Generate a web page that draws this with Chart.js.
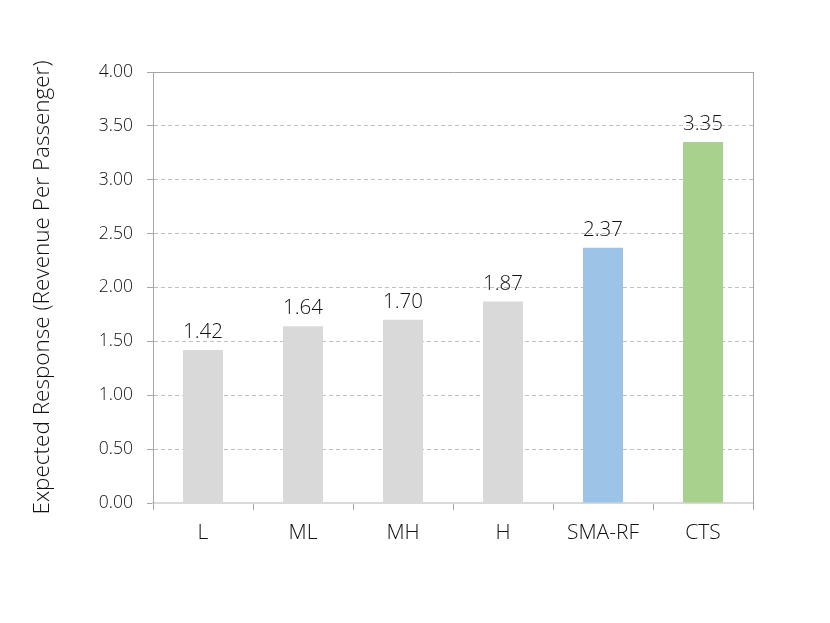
<!DOCTYPE html>
<html>
<head>
<meta charset="utf-8">
<script src="https://cdn.jsdelivr.net/npm/chart.js@4/dist/chart.umd.min.js"></script>
<style>
  html, body { margin: 0; padding: 0; background: #fff; }
  #wrap { width: 830px; height: 623px; }
</style>
</head>
<body>
<div id="wrap"><canvas id="grafica" width="830" height="623"></canvas></div>
<script>
const categorias = ['L', 'ML', 'MH', 'H', 'SMA-RF', 'CTS'];
const valores = [1.42, 1.64, 1.70, 1.87, 2.37, 3.35];
const colores = ['#D9D9D9', '#D9D9D9', '#D9D9D9', '#D9D9D9', '#9DC3E6', '#A9D18E'];
const tituloY = 'Expected Response (Revenue Per Passenger)';

const fuente = '"Open Sans", "DejaVu Sans", sans-serif';
const colorTexto = '#111111';

// etiquetas encima de cada barra
const etiquetasBarras = {
  id: 'etiquetasBarras',
  afterDatasetsDraw(chart) {
    const ctx = chart.ctx;
    const meta = chart.getDatasetMeta(0);
    ctx.save();
    ctx.font = '300 20.5px ' + fuente;
    ctx.fillStyle = colorTexto;
    ctx.textAlign = 'center';
    ctx.textBaseline = 'alphabetic';
    meta.data.forEach((bar, i) => {
      ctx.fillText(valores[i].toFixed(2), bar.x, bar.y - 12);
    });
    ctx.restore();
  }
};

const ctx = document.getElementById('grafica').getContext('2d');
const chart = new Chart(ctx, {
  type: 'bar',
  data: {
    labels: categorias,
    datasets: [{
      data: valores,
      backgroundColor: colores,
      borderWidth: 0,
      barPercentage: 0.4,
      categoryPercentage: 1
    }]
  },
  options: {
    responsive: false,
    animation: false,
    layout: { padding: { left: 29, top: 72, right: 77, bottom: 70 } },
    plugins: { legend: { display: false }, tooltip: { enabled: false } },
    scales: {
      x: {
        grid: {
          offset: true,
          drawOnChartArea: false,
          tickLength: 7,
          tickColor: '#A6A6A6'
        },
        border: { color: '#D9D9D9', width: 2 },
        ticks: {
          color: colorTexto,
          padding: 10,
          font: { family: fuente, size: 21, weight: '300' }
        },
        afterFit: s => { s.height = 50; }
      },
      y: {
        min: 0,
        max: 4,
        ticks: {
          stepSize: 0.5,
          color: colorTexto,
          padding: 14,
          font: { family: fuente, size: 17.5, weight: '300' },
          callback: v => v.toFixed(2)
        },
        grid: {
          color: c => c.tick && c.tick.value === 4 ? '#A6A6A6' : '#BFBFBF',
          tickLength: 6,
          tickColor: '#A6A6A6',
          tickBorderDash: []
        },
        border: {
          color: '#A6A6A6',
          dash: c => c.tick && c.tick.value === 4 ? [] : [4, 3]
        },
        title: {
          display: true,
          text: tituloY,
          color: colorTexto,
          padding: 0,
          font: { family: fuente, size: 22.5, weight: '300' }
        },
        afterFit: s => { s.width = 124; }
      },
      y2: {
        position: 'right',
        min: 0,
        max: 4,
        ticks: { display: false },
        grid: { drawOnChartArea: false, drawTicks: false },
        border: { color: '#A6A6A6' },
        afterFit: s => { s.width = 0; }
      }
    }
  },
  plugins: [etiquetasBarras]
});
</script>
</body>
</html>
